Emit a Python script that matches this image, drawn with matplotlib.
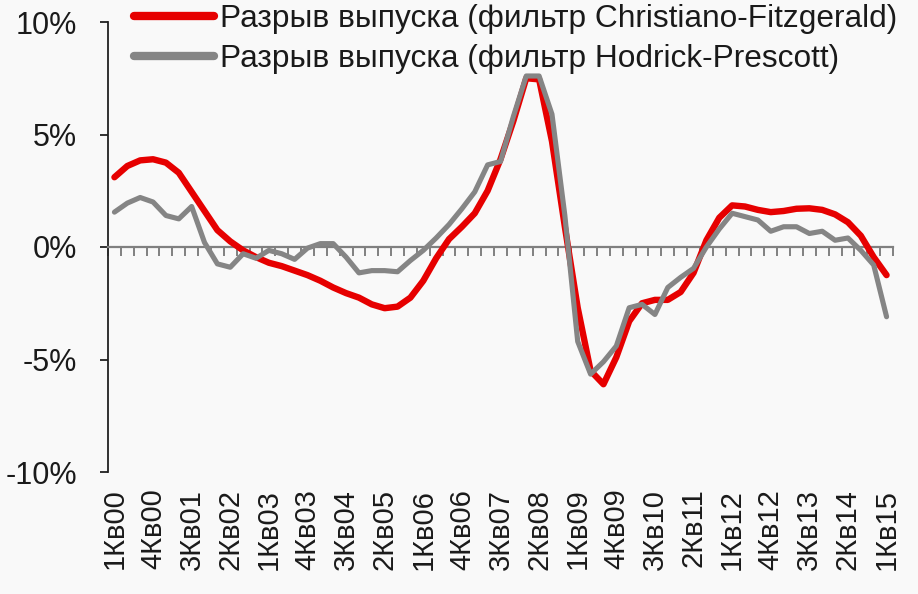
import matplotlib
matplotlib.use("Agg")
import matplotlib.pyplot as plt
import numpy as np

plt.rcParams['font.family'] = ['Liberation Sans', 'DejaVu Sans']

# Quarter labels 1Q2000 .. 1Q2015 (61 quarters)
quarters = [f"{q}Кв{y:02d}" for y in range(0, 16) for q in range(1, 5)][:61]

cf_gap = [3.1, 3.6, 3.85, 3.9, 3.75, 3.3, 2.45, 1.6, 0.75, 0.25,
          -0.15, -0.45, -0.7, -0.85, -1.05, -1.25, -1.5, -1.8, -2.05, -2.25,
          -2.55, -2.72, -2.65, -2.25, -1.5, -0.5, 0.35, 0.9, 1.5, 2.5,
          3.9, 5.6, 7.5, 7.45, 4.7, 0.9, -2.7, -5.5, -6.1, -4.9,
          -3.3, -2.5, -2.35, -2.35, -2.0, -1.15, 0.3, 1.3, 1.85, 1.8,
          1.65, 1.55, 1.6, 1.7, 1.72, 1.65, 1.45, 1.1, 0.5, -0.45,
          -1.25]

hp_gap = [1.55, 1.95, 2.2, 2.0, 1.4, 1.25, 1.8, 0.2, -0.75, -0.9,
          -0.3, -0.5, -0.15, -0.3, -0.55, -0.05, 0.15, 0.15, -0.45, -1.15,
          -1.05, -1.05, -1.1, -0.6, -0.15, 0.4, 1.0, 1.7, 2.45, 3.65,
          3.8, 5.8, 7.6, 7.6, 5.9, 1.4, -4.2, -5.65, -5.1, -4.4,
          -2.7, -2.55, -3.0, -1.8, -1.35, -0.95, 0.0, 0.8, 1.5, 1.35,
          1.2, 0.7, 0.9, 0.9, 0.6, 0.7, 0.3, 0.4, -0.15, -0.8,
          -3.1]

label_step = 3
y_ticks = [10, 5, 0, -5, -10]
y_ticklabels = ["10%", "5%", "0%", "-5%", "-10%"]
legend_labels = ["Разрыв выпуска (фильтр Christiano-Fitzgerald)",
                 "Разрыв выпуска (фильтр Hodrick-Prescott)"]

RED = '#e60000'
GRAY = '#858585'
TXT = '#1a1a1a'
BG = '#f9f9f9'

fig = plt.figure(figsize=(9.18, 5.94), dpi=100, facecolor=BG)
ax = fig.add_axes([108/918, 1-472/594, (893-108)/918, (472-22)/594])
ax.set_facecolor(BG)

x = np.arange(len(quarters))
ax.plot(x, cf_gap, color=RED, lw=4.6, solid_capstyle='round', solid_joinstyle='round',
        label=legend_labels[0], zorder=3)
ax.plot(x, hp_gap, color=GRAY, lw=3.7, solid_capstyle='round', solid_joinstyle='round',
        label=legend_labels[1], zorder=4)

ax.set_xlim(-0.5, len(quarters) - 0.5)
ax.set_ylim(-10, 10)

# y axis
ax.set_yticks(y_ticks)
ax.set_yticklabels(y_ticklabels)
ax.tick_params(axis='y', direction='out', length=6, width=1.3, color='#222222',
               pad=16, labelsize=22, labelcolor=TXT)
ax.spines['left'].set_color('#222222')
ax.spines['left'].set_linewidth(1.3)
ax.spines['top'].set_visible(False)
ax.spines['right'].set_visible(False)

# zero line with category-boundary ticks
ax.spines['bottom'].set_position(('data', 0))
ax.spines['bottom'].set_color('#808080')
ax.spines['bottom'].set_linewidth(1.6)
ax.set_xticks(np.arange(-0.5, len(quarters) + 0.5, 1.0), minor=True)
ax.set_xticks(x[::label_step])
ax.tick_params(axis='x', which='minor', direction='out', length=6.5, width=1.4, color='#808080')
ax.tick_params(axis='x', which='major', length=0, labelbottom=False)

# category labels at the bottom
sec = ax.secondary_xaxis('bottom')
sec.set_xticks(x[::label_step])
sec.set_xticklabels(quarters[::label_step], rotation=90, fontsize=21, color=TXT)
sec.tick_params(axis='x', length=0, pad=12)
sec.spines['bottom'].set_visible(False)

leg = fig.legend(loc='upper left', bbox_to_anchor=(121/918, 1 + 8.5/594), frameon=False,
                 fontsize=22.8, handlelength=2.55, handletextpad=0.19, labelspacing=0.3,
                 borderaxespad=0, labelcolor=TXT)
for h in leg.get_lines():
    h.set_linewidth(6)

fig.savefig('out.png', dpi=100, facecolor=BG)
